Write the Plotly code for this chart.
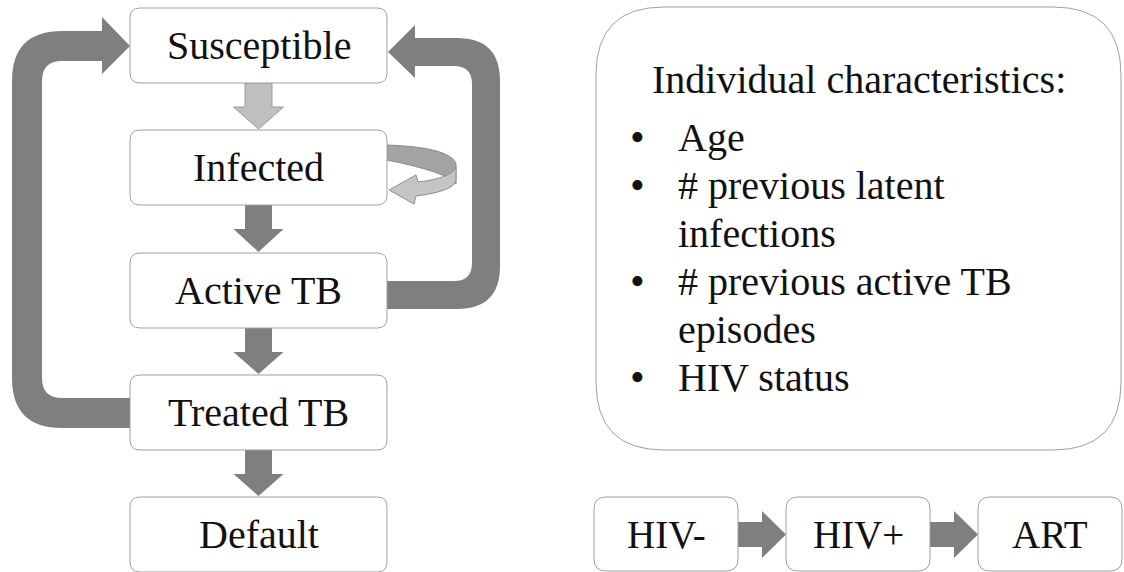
import plotly.graph_objects as go

# ---------------- data ----------------
states = ["Susceptible", "Infected", "Active TB", "Treated TB", "Default"]
characteristics_title = "Individual characteristics:"
characteristics = [
    ["Age"],
    ["# previous latent", "infections"],
    ["# previous active TB", "episodes"],
    ["HIV status"],
]
hiv_states = ["HIV-", "HIV+", "ART"]

# ---------------- layout constants ----------------
W, H = 1124, 572
FONT = "Liberation Serif, Times New Roman, serif"
DARK = "#7f7f7f"
LIGHT = "#bfbfbf"
BORDER = "#a0a0a0"

BOX_X0, BOX_X1 = 130, 387
BOX_TOPS = [8, 130, 253, 375, 497]
BOX_H = 75
HIV_X0 = [594, 786, 978]
HIV_W = 144
HIV_TOP = 497

shapes = []
annotations = []


def rrect(x0, y0, x1, y1, r):
    return (f"M {x0+r},{y0} L {x1-r},{y0} Q {x1},{y0} {x1},{y0+r} "
            f"L {x1},{y1-r} Q {x1},{y1} {x1-r},{y1} L {x0+r},{y1} "
            f"Q {x0},{y1} {x0},{y1-r} L {x0},{y0+r} Q {x0},{y0} {x0+r},{y0} Z")


def add_path(path, fill, line_color=None, width=0):
    shapes.append(dict(type="path", path=path, xref="x", yref="y",
                       fillcolor=fill,
                       line=dict(color=line_color or fill, width=width),
                       layer="above"))


# left return loop (Treated TB -> Susceptible)
left_loop = ("M 131,398 L 62,398 Q 42,398 42,378 L 42,81 Q 42,61 62,61 "
             "L 102,61 L 102,74 L 130,46 L 102,17 L 102,31 L 62,31 "
             "Q 12,31 12,81 L 12,378 Q 12,428 62,428 L 131,428 Z")
add_path(left_loop, DARK)

# right return loop (Active TB -> Susceptible)
right_loop = ("M 386,281 L 454,281 Q 472,281 472,263 L 472,84 Q 472,66 454,66 "
              "L 415,66 L 415,78 L 388,52 L 415,25 L 415,38 L 457,38 "
              "Q 500,38 500,81 L 500,266 Q 500,309 457,309 L 386,309 Z")
add_path(right_loop, DARK)

# self loop on Infected
back = ("M 387,145 Q 448,147 456,163 L 456,184 Q 447,172 387,160 Z")
add_path(back, "#a3a3a3", "#8a8a8a", 1)
front = ("M 456,167 Q 452,178 418,182 L 416,175 L 389,190 L 414,204 "
         "L 416,196 Q 455,191 456,180 Z")
add_path(front, "#c4c4c4", "#8f8f8f", 1)

# vertical arrows between states
cx = (BOX_X0 + BOX_X1) / 2
for i in range(len(states) - 1):
    b = BOX_TOPS[i] + BOX_H
    t = BOX_TOPS[i + 1]
    hb = b + 24
    p = (f"M {cx-13.5},{b} L {cx+13.5},{b} L {cx+13.5},{hb} L {cx+25},{hb} "
         f"L {cx},{t-1} L {cx-25},{hb} L {cx-13.5},{hb} Z")
    if i == 0:
        add_path(p, LIGHT, "#9a9a9a", 1)
    else:
        add_path(p, DARK)

# state boxes
for i, s in enumerate(states):
    y0 = BOX_TOPS[i]
    add_path(rrect(BOX_X0, y0, BOX_X1, y0 + BOX_H, 10), "white", BORDER, 1)
    annotations.append(dict(x=cx, y=y0 + BOX_H / 2, text=s, showarrow=False,
                            xanchor="center", yanchor="middle",
                            font=dict(family=FONT, size=40, color="#111")))

# characteristics panel
add_path(rrect(596, 7, 1121, 450, 68), "white", BORDER, 1)
annotations.append(dict(x=650, y=79, text=characteristics_title, showarrow=False,
                        xanchor="left", yanchor="middle",
                        font=dict(family=FONT, size=40, color="#111")))
line_y = 137
for item in characteristics:
    annotations.append(dict(x=637, y=line_y, text="•", showarrow=False,
                            xanchor="center", yanchor="middle",
                            font=dict(family=FONT, size=42, color="#111")))
    for ln in item:
        annotations.append(dict(x=676, y=line_y, text=ln, showarrow=False,
                                xanchor="left", yanchor="middle",
                                font=dict(family=FONT, size=40, color="#111")))
        line_y += 48

# HIV boxes and arrows
for i in range(len(hiv_states) - 1):
    r = HIV_X0[i] + HIV_W
    nl = HIV_X0[i + 1]
    hb = r + 24
    p = (f"M {r},{522} L {hb},{522} L {hb},{511} L {nl},{534.5} L {hb},{558} "
         f"L {hb},{547} L {r},{547} Z")
    add_path(p, DARK)
for i, s in enumerate(hiv_states):
    x0 = HIV_X0[i]
    add_path(rrect(x0, HIV_TOP, x0 + HIV_W, HIV_TOP + BOX_H - 1, 12), "white", BORDER, 1)
    annotations.append(dict(x=x0 + HIV_W / 2, y=HIV_TOP + BOX_H / 2, text=s,
                            showarrow=False, xanchor="center", yanchor="middle",
                            font=dict(family=FONT, size=39, color="#111")))

fig = go.Figure()
fig.update_layout(width=W, height=H, margin=dict(l=0, r=0, t=0, b=0),
                  paper_bgcolor="white", plot_bgcolor="white",
                  shapes=shapes, annotations=annotations, showlegend=False)
fig.update_xaxes(range=[0, W], visible=False, fixedrange=True)
fig.update_yaxes(range=[H, 0], visible=False, fixedrange=True)
fig.write_html("out.html", config=dict(displayModeBar=False),
               post_script="document.body.style.margin='0';document.body.style.overflow='hidden';")
